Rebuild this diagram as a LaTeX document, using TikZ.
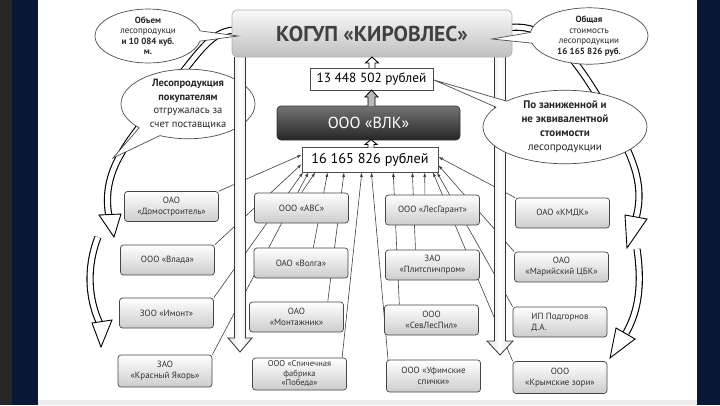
\documentclass[tikz,border=0pt]{standalone}
\usepackage{fontspec}
\setmainfont{PT Sans}
\usetikzlibrary{shapes.callouts,shapes.geometric,arrows.meta,calc}
\pgfdeclarelayer{bg}
\pgfdeclarelayer{lines}
\pgfsetlayers{bg,lines,main}
\definecolor{navy}{RGB}{8,24,52}
\begin{document}
\begin{tikzpicture}[x=1pt,y=-1pt,
 box/.style={draw=gray!55!black, line width=0.7pt, rounded corners=3pt, top color=white, bottom color=gray!40, minimum width=94pt, minimum height=30pt, inner sep=1pt, align=center, font=\fontsize{9}{11}\selectfont, text=black!80},
 bubble/.style={ellipse callout, draw=black!70, line width=0.7pt, fill=white, inner sep=0pt, align=center, text=black!85},
 conn/.style={draw=black!75, line width=0.6pt, -{Latex[length=4.5pt,width=3pt]}},
 band/.style={line width=1.1pt, draw=black, double=white, double distance=5pt},
 hollow/.style={draw=black, line width=0.9pt, fill=white, line join=miter},
 post/.style={draw=black!80, line width=0.8pt, left color=gray!25, right color=gray!25, middle color=white, line join=miter},
 sumbox/.style={draw=gray!60!black, line width=0.7pt, fill=white, inner sep=0pt}
]
\useasboundingbox (0,0) rectangle (720,405);
\begin{pgfonlayer}{bg}
 \fill[navy] (0,0) rectangle (720,405);
 \fill[black!85] (0,0) rectangle (12,405);
 \fill[white] (38,0) rectangle (697,400);
 \fill[gray!15] (38,400) rectangle (697,405);
 % curved hollow arrows
 \coordinate (a1s) at (238,30);
 \coordinate (a1e) at (109,217);
 \draw[band] (a1s) .. controls (215,29) and (202,48) .. (182,73) .. controls (132,138) and (100,165) .. (a1e);
 \draw[hollow] (99,215) -- (121,214) -- (114,237) -- cycle;
 \coordinate (a2s) at (98,237);
 \coordinate (a2e) at (101,326);
 \draw[band] (a2s) .. controls (86,268) and (88,300) .. (a2e);
 \draw[hollow] (92,323) -- (112,320) -- (101,347) -- cycle;
 \coordinate (a3s) at (506,28);
 \coordinate (a3e) at (636,218);
 \draw[band] (a3s) .. controls (545,22) and (570,50) .. (600,100) .. controls (630,150) and (646,180) .. (a3e);
 \draw[hollow] (625,215) -- (647,219) -- (627,248) -- cycle;
 \coordinate (a4s) at (637,249);
 \coordinate (a4e) at (626,333);
 \draw[band] (a4s) .. controls (642,284) and (639,310) .. (a4e);
 \draw[hollow] (616,328) -- (635,339) -- (610,358) -- cycle;
\end{pgfonlayer}

% left lower bubble (behind post)
\node[bubble, minimum width=134pt, minimum height=66pt, callout pointer arc=22, callout absolute pointer={(113,158)}, font=\fontsize{10.5}{13.5}\selectfont] (bub2) at (188,104)
 {\textbf{Лесопродукция}\\\textbf{покупателям}\\отгружалась за\\счет поставщика};

% posts
\draw[post] (234.5,57) -- (234.5,338) -- (228,338) -- (240,352) -- (252,338) -- (245.5,338) -- (245.5,57);
\draw[post] (494.5,57) -- (494.5,341) -- (487,341) -- (500,355) -- (513,341) -- (505.5,341) -- (505.5,57);

% top box
\node[draw=gray!60, line width=0.7pt, rounded corners=5pt, top color=gray!5, bottom color=gray!50, minimum width=280pt, minimum height=47pt, font=\fontsize{21.5}{24}\selectfont\bfseries, text=black!75] (kog) at (372,33.5) {КОГУП «КИРОВЛЕС»};

% top bubbles
\node[bubble, minimum width=106pt, minimum height=52pt, callout pointer arc=22, callout absolute pointer={(238,36)}, font=\fontsize{9}{10.5}\selectfont] (bub1) at (148,36)
 {\textbf{Объем}\\лесопродукци\\\textbf{и 10 084 куб.}\\\textbf{м.}};
\node[bubble, minimum width=118pt, minimum height=52pt, callout pointer arc=22, callout absolute pointer={(492,39)}, font=\fontsize{9}{10.5}\selectfont] (bub3) at (589,36)
 {\textbf{Общая}\\стоимость\\лесопродукции\\\textbf{16 165 826 руб.}};

% central chain
\node[sumbox, minimum width=123pt, minimum height=22pt, font=\fontsize{13.3}{15}\selectfont] (s1) at (371.5,79) {13 448 502 рублей};
\node[draw=black!80, line width=0.7pt, rounded corners=4pt, top color=black!55, bottom color=black!85, minimum width=183pt, minimum height=34pt, text=white, font=\fontsize{16}{18}\selectfont] (vlk) at (368.5,123) {ООО «ВЛК»};
\node[sumbox, minimum width=136pt, minimum height=25pt, font=\fontsize{14.2}{16}\selectfont] (sum) at (370,159.5) {16 165 826 рублей};

\draw[hollow] (369,68) -- (369,63) -- (365.5,63) -- (372,57) -- (378.5,63) -- (375,63) -- (375,68);
\draw[draw=black, line width=0.8pt, fill=gray!55] (368,106) -- (368,97) -- (365,97) -- (371.5,90) -- (378,97) -- (375,97) -- (375,106);
\draw[hollow] (368,147.5) -- (368,144.5) -- (365,144.5) -- (371,139.5) -- (377,144.5) -- (374,144.5) -- (374,147.5);

% company boxes
\node[box] (dom) at (171.5,206.5) {ОАО\\«Домостроитель»};
\node[box] (vlada) at (167.5,260) {ООО «Влада»};
\node[box] (imont) at (166.5,313) {ЗОО «Имонт»};
\node[box, minimum height=32pt] (yakor) at (165,371) {ЗАО\\«Красный Якорь»};

\node[box] (abc) at (301.5,208) {ООО «АВС»};
\node[box] (volga) at (301,263) {ОАО «Волга»};
\node[box] (montazh) at (296.5,317) {ОАО\\«Монтажник»};
\node[box, minimum height=32pt, font=\fontsize{8.5}{9.5}\selectfont] (pobeda) at (299.5,374) {ООО «Спичечная\\фабрика\\«Победа»};

\node[box] (lesg) at (432.5,210) {ООО «ЛесГарант»};
\node[box] (plit) at (432.5,265) {ЗАО\\«Плитспичпром»};
\node[box] (sevl) at (431.5,320) {ООО\\«СевЛесПил»};
\node[box, minimum height=32pt] (ufa) at (433.5,376) {ООО «Уфимские\\спички»};

\node[box] (kmdk) at (562.5,213) {ОАО «КМДК»};
\node[box] (mari) at (561.5,267) {ОАО\\«Марийский ЦБК»};
\node[box, align=left] (podg) at (560,322) {ИП Подгорнов\\Д.А.\hspace*{40pt}};
\node[box, minimum height=32pt] (krym) at (560,377.5) {ООО\\«Крымские зори»};

% right lower bubble
\node[bubble, minimum width=164pt, minimum height=62pt, callout pointer arc=12, callout absolute pointer={(434,80)}, font=\fontsize{11}{14}\selectfont] (bub4) at (565,127)
 {\textbf{По заниженной и}\\\textbf{не эквивалентной}\\\textbf{стоимости}\\лесопродукции};

% connectors
\begin{pgfonlayer}{lines}
 \coordinate (L1) at ($(sum.north west)!0.32!(sum.south west)$);
 \coordinate (L2) at ($(sum.north west)!0.68!(sum.south west)$);
 \coordinate (R1) at ($(sum.north east)!0.40!(sum.south east)$);
 \coordinate (R2) at ($(sum.north east)!0.72!(sum.south east)$);
 \foreach \n/\f in {1/0.01,2/0.05,3/0.10,4/0.19,5/0.31,6/0.44,7/0.51,8/0.67,9/0.81,10/0.90,11/0.96,12/0.99}
   \coordinate (B\n) at ($(sum.south west)!\f!(sum.south east)$);
 \draw[conn] (dom.north east) -- (L1);
 \draw[conn] (vlada.north east) -- (L2);
 \draw[conn] (imont.north east) -- (B1);
 \draw[conn] (yakor.north east) -- (B2);
 \draw[conn] ($(abc.north west)!0.5!(abc.north east)$) -- (B3);
 \draw[conn] ($(volga.north west)!0.63!(volga.north east)$) -- (B4);
 \draw[conn] ($(montazh.north west)!0.83!(montazh.north east)$) -- (B5);
 \draw[conn] ($(pobeda.north west)!0.95!(pobeda.north east)$) -- (B6);
 \draw[conn] ($(ufa.north west)!0.02!(ufa.north east)$) -- (B7);
 \draw[conn] ($(sevl.north west)!0.16!(sevl.north east)$) -- (B8);
 \draw[conn] ($(plit.north west)!0.32!(plit.north east)$) -- (B9);
 \draw[conn] ($(lesg.north west)!0.42!(lesg.north east)$) -- (B10);
 \draw[conn] (krym.north west) -- (B11);
 \draw[conn] (podg.north west) -- (B12);
 \draw[conn] (mari.north west) -- (R2);
 \draw[conn] (kmdk.north west) -- (R1);
\end{pgfonlayer}
\end{tikzpicture}
\end{document}
